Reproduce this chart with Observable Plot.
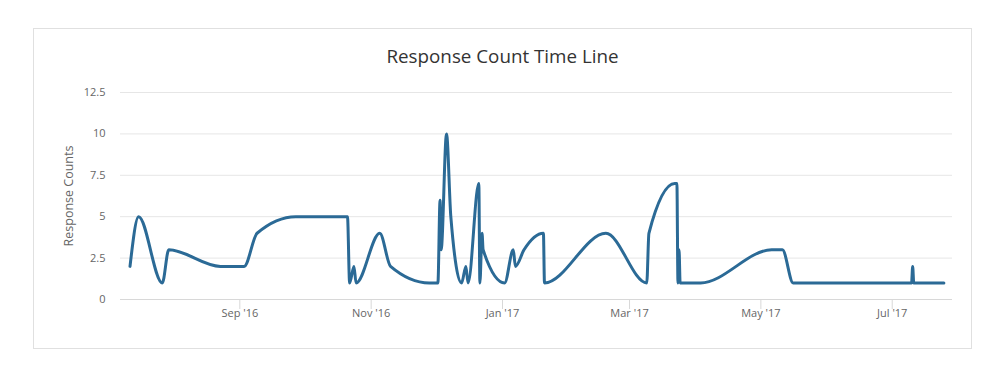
<!DOCTYPE html>
<html>
<head>
<meta charset="utf-8">
<script src="https://cdn.jsdelivr.net/npm/d3@7"></script>
<script src="https://cdn.jsdelivr.net/npm/@observablehq/plot@0.6"></script>
<style>
  html, body { margin: 0; padding: 0; background: #fff; }
  body { width: 1001px; height: 385px; position: relative; overflow: hidden; font-family: "Open Sans", sans-serif; }
  #frame { position: absolute; left: 33px; top: 28px; width: 937px; height: 319px; border: 1px solid #e0e0e0; }
  #title { margin: 15px 0 0 0; height: 24px; line-height: 24px; text-align: center; font-size: 18.8px; color: #333; font-weight: 400; }
  #chart svg { display: block; }
</style>
</head>
<body>
<div id="frame">
  <div id="title">Response Count Time Line</div>
  <div id="chart"></div>
</div>
<script>
// ---- data ----
const dates = [
  "2016-07-12", "2016-07-16", "2016-07-27", "2016-07-30", "2016-08-23", "2016-09-03",
  "2016-09-09", "2016-09-27", "2016-10-21", "2016-10-22", "2016-10-24", "2016-10-25",
  "2016-11-05", "2016-11-10", "2016-11-28", "2016-12-02", "2016-12-03", "2016-12-03T12:00Z",
  "2016-12-06", "2016-12-08", "2016-12-13", "2016-12-15", "2016-12-16", "2016-12-21",
  "2016-12-21T12:00Z", "2016-12-22T12:00Z", "2016-12-23", "2017-01-02", "2017-01-06", "2017-01-07",
  "2017-01-11", "2017-01-20", "2017-01-20T12:00Z", "2017-02-18", "2017-03-09", "2017-03-10",
  "2017-03-22", "2017-03-23", "2017-03-23T12:00Z", "2017-03-24", "2017-03-24T12:00Z", "2017-04-03",
  "2017-05-06", "2017-05-11", "2017-05-16", "2017-07-10", "2017-07-10T12:00Z", "2017-07-11",
  "2017-07-25"
];
const counts = [
  2, 5, 1, 3, 2, 2,
  4, 5, 5, 1, 2, 1,
  4, 2, 1, 1, 6, 3,
  10, 5, 1, 2, 1, 7,
  1, 4, 3, 1, 3, 2,
  3, 4, 1, 4, 1, 4,
  7, 7, 1, 3, 1, 1,
  3, 3, 1, 1, 2, 1,
  1
];
const xDomain = ["2016-07-07T14:00Z", "2017-07-29T00:00Z"];
const xTicks = ["2016-09-01", "2016-11-01", "2017-01-01", "2017-03-01", "2017-05-01", "2017-07-01"];
const xTickLabels = ["Sep '16", "Nov '16", "Jan '17", "Mar '17", "May '17", "Jul '17"];
const yTicks = [0, 2.5, 5, 7.5, 10, 12.5];
const yTitle = "Response Counts";

const parse = s => new Date(s.length === 10 ? s + "T00:00Z" : s);
const data = dates.map((d, i) => ({date: parse(d), count: counts[i]}));
const tickDates = xTicks.map(parse);
const labelOf = new Map(tickDates.map((d, i) => [+d, xTickLabels[i]]));

const chart = Plot.plot({
  width: 937,
  height: 280,
  marginLeft: 86,
  marginRight: 19,
  marginTop: 24,
  marginBottom: 49,
  style: {fontFamily: "'Open Sans', sans-serif", fontSize: "11px", color: "#666", background: "transparent"},
  x: {type: "utc", domain: xDomain.map(parse)},
  y: {domain: [0, 12.5]},
  marks: [
    Plot.gridY(yTicks.filter(v => v > 0), {stroke: "#e6e6e6", strokeOpacity: 1}),
    Plot.ruleY([0], {stroke: "#d8d8d8"}),
    Plot.axisY({ticks: yTicks, tickSize: 0, tickPadding: 15, tickFormat: d => String(d), label: null, fill: "#666"}),
    Plot.text([yTitle], {frameAnchor: "left", textAnchor: "middle", dx: -52, rotate: -90, fill: "#666", fontSize: 12.5}),
    Plot.axisX({ticks: tickDates, tickSize: 10, stroke: "#d8d8d8", strokeOpacity: 1, tickPadding: 0, tickFormat: d => labelOf.get(+d), label: null, fill: "#666"}),
    Plot.line(data, {x: "date", y: "count", curve: "monotone-x", stroke: "#2b6a96", strokeWidth: 3, strokeLinejoin: "round", strokeLinecap: "round"})
  ]
});
document.getElementById("chart").appendChild(chart);
</script>
</body>
</html>
